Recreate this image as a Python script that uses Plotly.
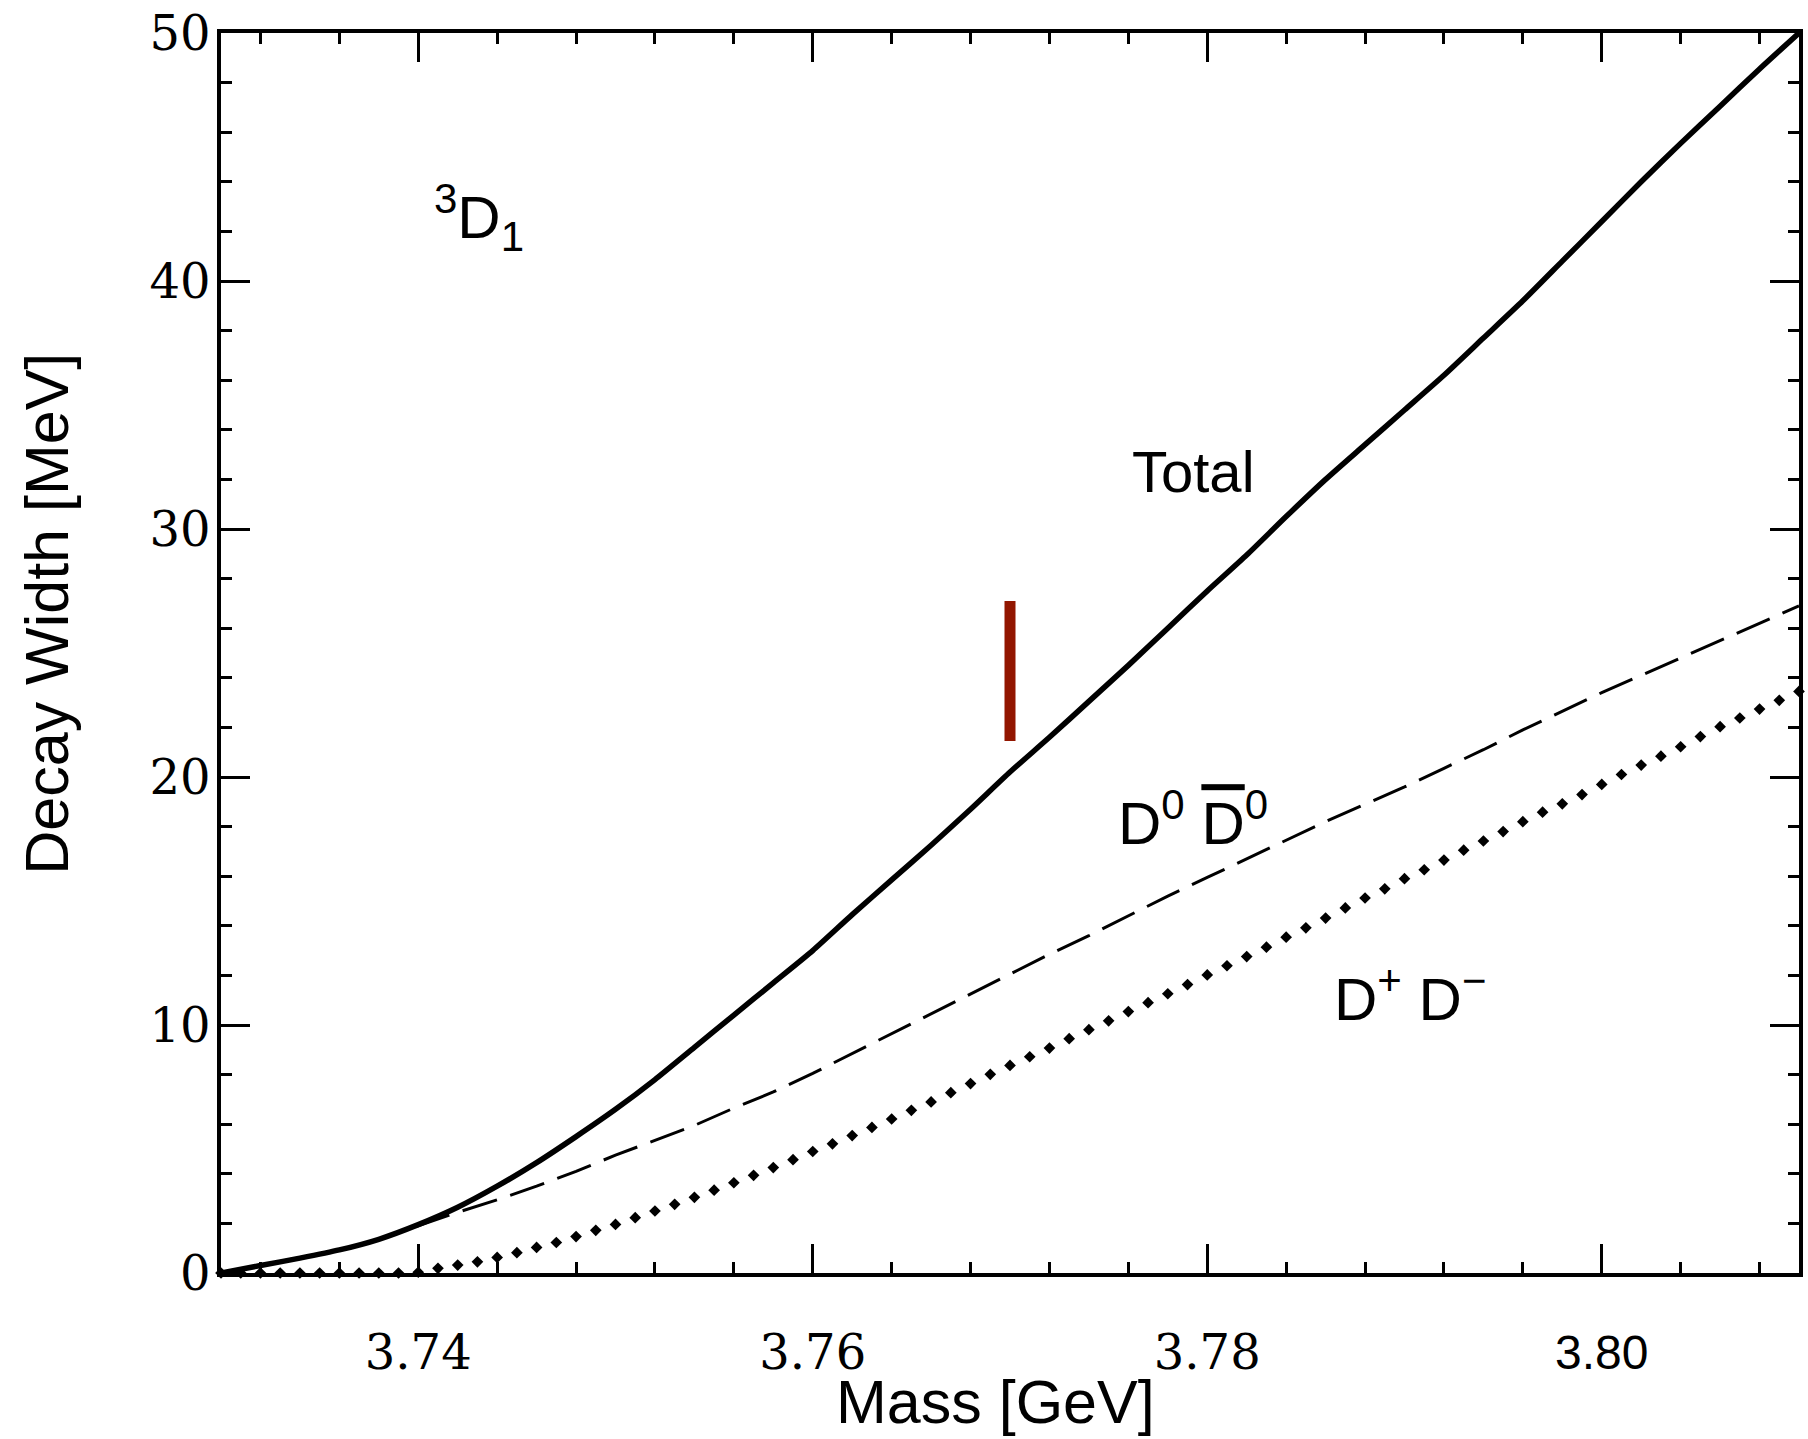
import plotly.graph_objects as go

# ---------------- data ----------------
mass_line = [3.730, 3.732, 3.734, 3.736, 3.738, 3.740, 3.742, 3.744, 3.746, 3.748,
             3.750, 3.752, 3.754, 3.756, 3.758, 3.760, 3.762, 3.764, 3.766, 3.768,
             3.770, 3.772, 3.774, 3.776, 3.778, 3.780, 3.782, 3.784, 3.786, 3.788,
             3.790, 3.792, 3.794, 3.796, 3.798, 3.800, 3.802, 3.804, 3.806, 3.808,
             3.810]
width_total = [0.0, 0.3, 0.6, 0.93, 1.36, 1.95, 2.65, 3.5, 4.45, 5.5,
               6.6, 7.8, 9.1, 10.4, 11.7, 13.0, 14.45, 15.85, 17.25, 18.7,
               20.2, 21.6, 23.05, 24.5, 26.0, 27.5, 28.95, 30.5, 32.0, 33.4,
               34.8, 36.2, 37.7, 39.2, 40.8, 42.4, 44.0, 45.55, 47.05, 48.55,
               50.0]
width_d0d0bar = [0.0, 0.3, 0.6, 0.93, 1.36, 1.9, 2.45, 2.95, 3.5, 4.1,
                 4.75, 5.35, 5.95, 6.65, 7.3, 8.05, 8.85, 9.65, 10.45, 11.25,
                 12.05, 12.85, 13.6, 14.4, 15.2, 15.95, 16.7, 17.45, 18.2, 18.9,
                 19.6, 20.35, 21.1, 21.9, 22.65, 23.4, 24.1, 24.8, 25.5, 26.2,
                 26.9]

mass_points = [round(3.730 + 0.001 * i, 3) for i in range(81)]
width_dpdm = [0.0, 0.0, 0.0, 0.0, 0.0, 0.0, 0.0, 0.0, 0.0, 0.0,
              0.03, 0.19, 0.32, 0.45, 0.63, 0.82, 1.03, 1.23, 1.47, 1.72,
              1.96, 2.23, 2.50, 2.77, 3.05, 3.34, 3.64, 3.94, 4.25, 4.57,
              4.90, 5.21, 5.54, 5.87, 6.21, 6.56, 6.90, 7.27, 7.64, 8.01,
              8.37, 8.72, 9.07, 9.45, 9.81, 10.17, 10.54, 10.90, 11.26, 11.63,
              12.02, 12.39, 12.76, 13.14, 13.54, 13.92, 14.31, 14.72, 15.12, 15.49,
              15.90, 16.26, 16.65, 17.05, 17.42, 17.80, 18.20, 18.58, 18.92, 19.29,
              19.70, 20.10, 20.48, 20.84, 21.22, 21.63, 22.03, 22.38, 22.74, 23.09,
              23.45]

exp_mass = [3.770, 3.770]
exp_width = [21.45, 27.1]

x_tickvals = [3.74, 3.76, 3.78, 3.80]
x_ticktext = ["3.74", "3.76", "3.78",
              '<span style="font-family:\'Liberation Sans\', Arial, sans-serif">3.80</span>']
y_tickvals = [0, 10, 20, 30, 40, 50]
y_ticktext = ["0", "10", "20", "30", "40", "50"]

SANS = "Liberation Sans, Arial, Helvetica, sans-serif"
SERIF = "DejaVu Serif, serif"

fig = go.Figure()

fig.add_trace(go.Scatter(x=mass_line, y=width_d0d0bar, mode="lines",
                         line=dict(color="black", width=3, dash="36px,14px"),
                         showlegend=False))
fig.add_trace(go.Scatter(x=mass_points, y=width_dpdm, mode="markers",
                         marker=dict(symbol="diamond", size=9, color="black", line=dict(width=0)),
                         cliponaxis=False, showlegend=False))
fig.add_trace(go.Scatter(x=mass_line, y=width_total, mode="lines",
                         line=dict(color="black", width=5.5, shape="spline", smoothing=0.6),
                         showlegend=False))
fig.add_trace(go.Scatter(x=exp_mass, y=exp_width, mode="lines",
                         line=dict(color="#921600", width=11),
                         showlegend=False))

axis_common = dict(showline=True, linecolor="black", linewidth=3.5, mirror="allticks",
                   ticks="inside", ticklen=29, tickwidth=3, tickcolor="black",
                   showgrid=False, zeroline=False,
                   tickfont=dict(family=SERIF, size=48, color="black"))

fig.update_xaxes(range=[3.73, 3.81], tickvals=x_tickvals, ticktext=x_ticktext,
                 ticklabelstandoff=35,
                 minor=dict(ticks="inside", ticklen=11, tickwidth=3, tickcolor="black",
                            dtick=0.004, showgrid=False),
                 **axis_common)
fig.update_yaxes(range=[0, 50], tickvals=y_tickvals, ticktext=y_ticktext,
                 ticklabelstandoff=-3,
                 minor=dict(ticks="inside", ticklen=11, tickwidth=3, tickcolor="black",
                            dtick=2, showgrid=False),
                 **axis_common)

annotations = [
    dict(text="Mass [GeV]", xref="paper", yref="paper", x=0.491, y=-0.104,
         xanchor="center", yanchor="middle", showarrow=False,
         font=dict(family=SANS, size=61, color="black")),
    dict(text="Decay Width [MeV]", xref="paper", yref="paper", x=-0.110, y=0.532,
         xanchor="center", yanchor="middle", showarrow=False, textangle=-90,
         font=dict(family=SANS, size=61, color="black")),
    dict(text="Total", x=3.7793, y=32.3, xanchor="center", yanchor="middle",
         showarrow=False, font=dict(family=SANS, size=58, color="black")),
    dict(text='D<sup>0</sup> <span style="text-decoration:overline">D</span><sup>0</sup>',
         x=3.7793, y=18.3, xanchor="center", yanchor="middle",
         showarrow=False, font=dict(family=SANS, size=60, color="black")),
    dict(text="D<sup>+</sup> D<sup>\u2212</sup>", x=3.7903, y=11.2, xanchor="center",
         yanchor="middle", showarrow=False, font=dict(family=SANS, size=60, color="black")),
    dict(text="<sup>3</sup>D<sub>1</sub>", x=3.7431, y=42.56, xanchor="center",
         yanchor="middle", showarrow=False, font=dict(family=SANS, size=60, color="black")),
]

fig.update_layout(width=1808, height=1439,
                  margin=dict(l=221, r=5, t=30, b=166),
                  paper_bgcolor="white", plot_bgcolor="white",
                  annotations=annotations, showlegend=False)

fig.write_html("out.html")
